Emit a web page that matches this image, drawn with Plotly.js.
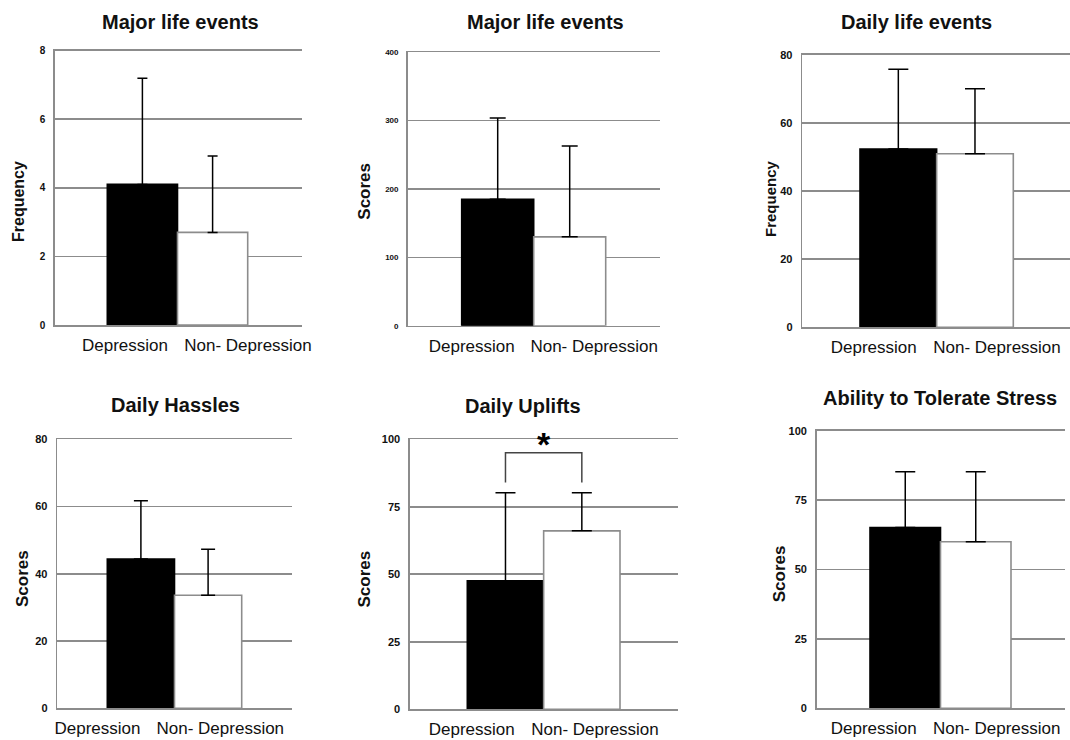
<!DOCTYPE html>
<html>
<head>
<meta charset="utf-8">
<script src="https://cdn.plot.ly/plotly-3.0.1.min.js"></script>
<style>html,body{margin:0;padding:0;background:#fff;}#chart{width:1070px;height:740px;}</style>
</head>
<body>
<div id="chart"></div>
<script>
// ---- data ----
const categories = ['Depression', 'Non- Depression'];
const panelTitles = ['Major life events', 'Major life events', 'Daily life events', 'Daily Hassles', 'Daily Uplifts', 'Ability to Tolerate Stress'];
const yTitles = ['Frequency', 'Scores', 'Frequency', 'Scores', 'Scores', 'Scores'];
const yMax = [8, 400, 80, 80, 100, 100];
const yStep = [2, 100, 20, 20, 25, 25];

const majorFreqMean = [4.1, 2.7];
const majorFreqSD = [3.1, 2.23];
const majorScoreMean = [185, 130];
const majorScoreSD = [119, 133];
const dailyEventsMean = [52.4, 51.0];
const dailyEventsSD = [23.4, 19.1];
const hasslesMean = [44.4, 33.6];
const hasslesSD = [17.3, 13.7];
const upliftsMean = [47.6, 66.1];
const upliftsSD = [32.6, 14.1];
const toleranceMean = [65.1, 60.0];
const toleranceSD = [20.1, 25.2];

// significance bracket in "Daily Uplifts": [leg bottom, bracket top]
const upliftsSigLevels = [84, 95];
const upliftsSigLabel = '*';

const means = [majorFreqMean, majorScoreMean, dailyEventsMean, hasslesMean, upliftsMean, toleranceMean];
const sds = [majorFreqSD, majorScoreSD, dailyEventsSD, hasslesSD, upliftsSD, toleranceSD];

// ---- layout geometry (pixels) ----
const W = 1070, H = 740;
const geom = [
  {L:55,    R:301.7, T:50.7,  B:325,   bL:107.3, bR:247.7,  tx:180.8, ty:21.7,  yx:18.3,  yy:201.7, ys:16, xl:[125,248],     tf:10, cap:5},
  {L:407.7, R:660,   T:52.3,  B:325.7, bL:461.7, bR:605.7,  tx:545,   ty:21.7,  yx:365,   yy:191.7, ys:17, xl:[471.7,594.2], tf:8,  cap:8},
  {L:802.3, R:1070,  T:55,    B:327.3, bL:860,   bR:1013.3, tx:916.3, ty:21.7,  yx:770.7, yy:198.3, ys:15, xl:[873.7,997],   tf:11, cap:10},
  {L:57.3,  R:291.7, T:439.3, B:708.3, bL:107.3, bR:241.7,  tx:175.7, ty:405,   yx:22.7,  yy:578.3, ys:17, xl:[97.5,220.3],  tf:11, cap:7},
  {L:410,   R:678.3, T:439.3, B:709.3, bL:467.3, bR:620,    tx:523.3, ty:406,   yx:364,   yy:579.5, ys:17, xl:[471.7,595],   tf:11, cap:10},
  {L:816.7, R:1065,  T:430.7, B:708.3, bL:870,   bR:1011,   tx:940,   ty:398.3, yx:779.3, yy:574,   ys:17, xl:[873.7,996.7], tf:11, cap:10}
];
const FONT = 'Liberation Sans, Arial, Helvetica, sans-serif';
const TXT = '#111';
const GRID = '#8c8c8c';

const traces = [];
const layout = {
  width: W, height: H,
  margin: {l:0, r:0, t:0, b:0, pad:0},
  paper_bgcolor: '#fff', plot_bgcolor: '#fff',
  showlegend: false,
  font: {family: FONT, color: TXT},
  annotations: [],
  shapes: []
};

geom.forEach((g, i) => {
  const n = i === 0 ? '' : String(i + 1);
  const xa = 'x' + n, ya = 'y' + n;
  const u = (g.bR - g.bL) / 2;
  const c0 = g.bL + u / 2;
  const xpos = categories.map((_, k) => k);

  traces.push({
    type: 'bar', x: xpos, y: means[i], width: 1,
    xaxis: xa, yaxis: ya,
    marker: {color: ['#000000', '#ffffff'], line: {color: ['#000000', GRID], width: 1.6}},
    error_y: {type: 'data', symmetric: false, array: sds[i], arrayminus: [0, 0],
              color: '#000', thickness: 1.5, width: g.cap},
    hoverinfo: 'none'
  });

  layout['xaxis' + n] = {
    domain: [g.L / W, g.R / W], anchor: ya,
    range: [(g.L - c0) / u, (g.R - c0) / u],
    tickmode: 'array',
    tickvals: g.xl.map(c => (c - c0) / u),
    ticktext: categories,
    ticks: '', showgrid: false, zeroline: false,
    showline: true, mirror: true, linecolor: GRID, linewidth: 1.6,
    tickfont: {family: FONT, size: 17, color: TXT},
    ticklabelstandoff: 4,
    fixedrange: true
  };
  layout['yaxis' + n] = {
    domain: [1 - g.B / H, 1 - g.T / H], anchor: xa,
    range: [0, yMax[i]], tick0: 0, dtick: yStep[i],
    ticks: '', showgrid: true, gridcolor: GRID, gridwidth: 1.6,
    zeroline: false, showline: true, linecolor: GRID, linewidth: 1.6,
    tickfont: {family: FONT, size: g.tf, color: TXT, weight: 'bold'},
    ticklabelstandoff: 6,
    fixedrange: true
  };

  layout.annotations.push({
    xref: 'paper', yref: 'paper', x: g.tx / W, y: 1 - g.ty / H,
    xanchor: 'center', yanchor: 'middle', showarrow: false,
    text: panelTitles[i], font: {family: FONT, size: 20, color: TXT, weight: 'bold'}
  });
  layout.annotations.push({
    xref: 'paper', yref: 'paper', x: g.yx / W, y: 1 - g.yy / H,
    xanchor: 'center', yanchor: 'middle', showarrow: false, textangle: -90,
    text: yTitles[i], font: {family: FONT, size: g.ys, color: TXT, weight: 'bold'}
  });
});

// significance bracket on Daily Uplifts (panel 5)
traces.push({
  type: 'scatter', mode: 'lines', xaxis: 'x5', yaxis: 'y5',
  x: [0, 0, 1, 1],
  y: [upliftsSigLevels[0], upliftsSigLevels[1], upliftsSigLevels[1], upliftsSigLevels[0]],
  line: {color: '#444', width: 1.5}, hoverinfo: 'none'
});
layout.annotations.push({
  xref: 'x5', yref: 'y5', x: 0.5, y: upliftsSigLevels[1],
  xanchor: 'center', yanchor: 'middle', showarrow: false, yshift: 9,
  text: upliftsSigLabel, font: {family: FONT, size: 34, color: '#000', weight: 'bold'}
});

Plotly.newPlot('chart', traces, layout, {staticPlot: true, displayModeBar: false});
</script>
</body>
</html>
